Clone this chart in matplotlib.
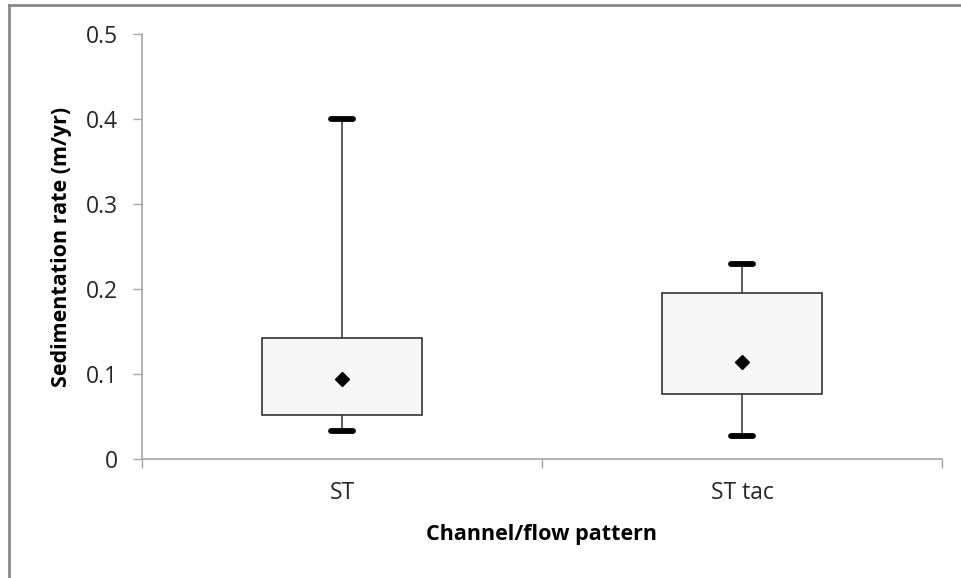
import numpy as np
import matplotlib.pyplot as plt
from matplotlib.lines import Line2D

# Box plot summary values
categories = ["ST", "ST tac"]
whisker_low = [0.033, 0.027]
box_low = [0.052, 0.076]
means = [0.094, 0.114]
box_high = [0.142, 0.195]
whisker_high = [0.400, 0.229]

plt.rcParams['font.family'] = ['Open Sans', 'DejaVu Sans']

fig = plt.figure(figsize=(9.61, 5.78), dpi=100)
ax = fig.add_axes([142/961, 1 - 459/578, 800/961, (459 - 34.3)/578])

# stats for bxp
stats = []
for i in range(len(categories)):
    stats.append({
        'label': categories[i],
        'whislo': whisker_low[i],
        'q1': box_low[i],
        'med': means[i],
        'mean': means[i],
        'q3': box_high[i],
        'whishi': whisker_high[i],
        'fliers': [],
    })

pos = np.arange(len(categories)) + 0.5
ax.bxp(stats, positions=pos, widths=0.4, patch_artist=True,
       showmeans=True, showfliers=False, capwidths=0.055,
       boxprops=dict(facecolor='#f7f7f7', edgecolor='#222222', linewidth=1.1),
       whiskerprops=dict(color='#404040', linewidth=1.2),
       capprops=dict(color='black', linewidth=4.2, solid_capstyle='round'),
       medianprops=dict(linewidth=0),
       meanprops=dict(marker='D', markerfacecolor='black', markeredgecolor='black',
                      markersize=7.5))

ax.set_xlim(0, 2)
ax.set_ylim(0, 0.5)
ax.set_yticks([0, 0.1, 0.2, 0.3, 0.4, 0.5])
ax.set_yticklabels(['0', '0.1', '0.2', '0.3', '0.4', '0.5'])
ax.set_xticks([0, 1, 2])
ax.set_xticklabels(['', '', ''])
ax.set_xticks(pos, minor=True)
ax.set_xticklabels(categories, minor=True)

for s in ['top', 'right']:
    ax.spines[s].set_visible(False)
for s in ['left', 'bottom']:
    ax.spines[s].set_color('#a6a6a6')
    ax.spines[s].set_linewidth(1.2)

ax.tick_params(axis='both', which='major', direction='out', length=6.5,
               width=1.0, color='#a6a6a6', labelsize=16.5, labelcolor='#262626', pad=11)
ax.tick_params(axis='x', which='minor', length=0, labelsize=16.5, labelcolor='#262626', pad=16)

ax.set_ylabel('Sedimentation rate (m/yr)', fontsize=15.5, fontweight='bold')
ax.set_xlabel('Channel/flow pattern', fontsize=15.5, fontweight='bold')
ax.yaxis.set_label_coords(-0.088, 0.5)
ax.xaxis.set_label_coords(0.5, -0.152)

# chart border (only top and left edge visible in the crop)
fig.add_artist(Line2D([8.5/961, 8.5/961], [0, 1 - 5/578], transform=fig.transFigure,
                      color='#888888', linewidth=2))
fig.add_artist(Line2D([8.5/961, 1], [1 - 5/578, 1 - 5/578], transform=fig.transFigure,
                      color='#888888', linewidth=2))

fig.savefig('out.png', dpi=100)
